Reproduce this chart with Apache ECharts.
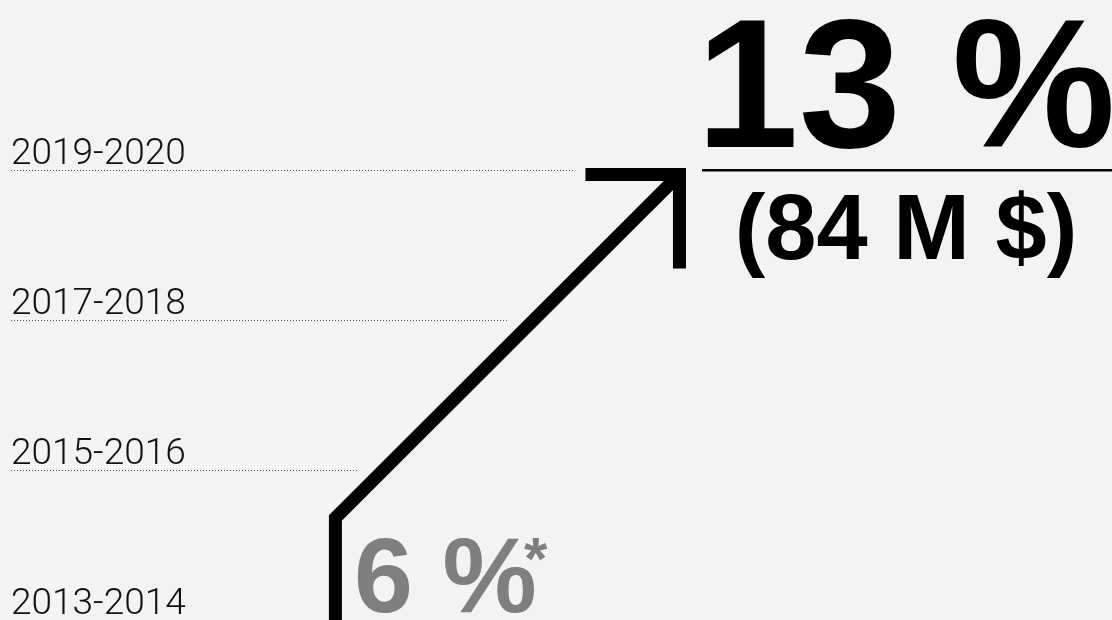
<!DOCTYPE html>
<html>
<head>
<meta charset="utf-8">
<style>
  html, body { margin: 0; padding: 0; background: #f3f3f3; }
  #chart { width: 1112px; height: 620px; }
</style>
<script src="https://cdn.jsdelivr.net/npm/echarts@6/dist/echarts.min.js"></script>
</head>
<body>
<div id="chart"></div>
<script>
// periods on the vertical axis, bottom to top
const periods = ['2013-2014', '2015-2016', '2017-2018', '2019-2020'];
// path of the arrow: share (%) against period index
const pathShare = [6, 6, 13];
const pathPeriod = [0, 0.68, 2.97];
// where each dotted guide stops, in share units (none for the first period)
const guideEnds = [null, 6.44, 9.49, 10.88];
const startShare = 6;
const endShare = 13;
const endAmount = 84; // M $

let chart = echarts.init(document.getElementById('chart'));

let pathData = pathShare.map((v, i) => [v, pathPeriod[i]]);
let guides = [];
guideEnds.forEach((end, i) => {
  if (end == null) return;
  guides.push([{ coord: [-0.6, i] }, { coord: [end, i] }]);
});

const bold = '"Liberation Sans", Arial, sans-serif';

chart.setOption({
  backgroundColor: '#f3f3f3',
  animation: false,
  grid: { left: 11, right: 0, top: 170, bottom: 0, containLabel: false, outerBoundsMode: 'none' },
  xAxis: { type: 'value', min: -0.6, max: 21.8, show: false },
  yAxis: {
    type: 'value',
    min: 0,
    max: 3,
    interval: 1,
    axisLine: { show: false },
    axisTick: { show: false },
    splitLine: { show: false },
    axisLabel: {
      inside: true,
      margin: 0,
      align: 'left',
      verticalAlign: 'bottom',
      lineHeight: 31,
      color: '#111',
      fontSize: 37,
      fontWeight: 300,
      fontFamily: 'Roboto, "Open Sans", sans-serif',
      formatter: (v) => periods[v] || ''
    }
  },
  series: [
    {
      type: 'line',
      data: pathData,
      symbol: 'none',
      clip: false,
      lineStyle: { color: '#000', width: 13, join: 'miter', cap: 'butt' },
      markLine: {
        silent: true,
        symbol: ['none', 'none'],
        label: { show: false },
        lineStyle: { color: '#555', width: 1, type: [1, 2] },
        data: guides
      }
    },
    {
      // arrow head at the end of the path
      type: 'custom',
      clip: false,
      data: [pathData[pathData.length - 1]],
      renderItem: (params, api) => {
        let p = api.coord([api.value(0), api.value(1)]);
        let arm = 94;
        return {
          type: 'polyline',
          shape: { points: [[p[0] - arm, p[1]], p, [p[0], p[1] + arm]] },
          style: { stroke: '#000', fill: null, lineWidth: 13, lineJoin: 'miter', lineCap: 'butt' }
        };
      }
    }
  ],
  graphic: [
    {
      type: 'text', x: 906, y: 96,
      style: { text: endShare + ' %', fill: '#000', fontSize: 184, fontWeight: 'bold', fontFamily: bold, align: 'center', verticalAlign: 'middle' }
    },
    {
      type: 'rect', shape: { x: 702, y: 169, width: 410, height: 2.5 },
      style: { fill: '#000' }
    },
    {
      type: 'text', x: 906, y: 234,
      style: { text: '(' + endAmount + ' M $)', fill: '#000', fontSize: 92, fontWeight: 'bold', fontFamily: bold, align: 'center', verticalAlign: 'middle' }
    },
    {
      type: 'text', x: 354, y: 583,
      style: { text: startShare + ' %', fill: '#7f7f7f', fontSize: 106, fontWeight: 'bold', fontFamily: bold, align: 'left', verticalAlign: 'middle' }
    },
    {
      type: 'text', x: 524, y: 562,
      style: { text: '*', fill: '#7f7f7f', fontSize: 60, fontWeight: 'bold', fontFamily: bold, align: 'left', verticalAlign: 'middle' }
    }
  ]
});
</script>
</body>
</html>
